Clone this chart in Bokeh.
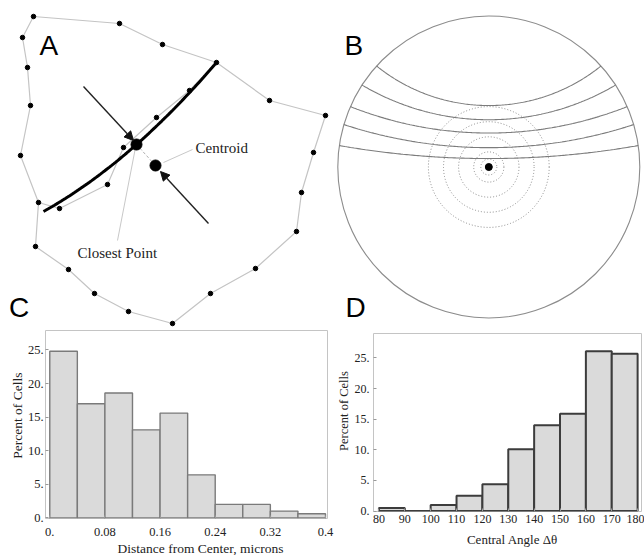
import numpy as np
from bokeh.plotting import figure
from bokeh.models import Range1d, FixedTicker, Arrow, NormalHead
from bokeh.layouts import column, row
from bokeh.embed import file_html
from bokeh.resources import INLINE
from bokeh.core.properties import value

# ---------------- Panel A : cell outline schematic (reference pixel space) -------------
outline_x = [33, 119, 162, 216, 269, 325, 313, 301, 296, 255, 210, 172, 128, 94, 68, 35, 38, 20, 30, 27, 22, 33]
outline_y = [16, 23, 44, 62, 100, 115, 152, 192, 231, 268, 293, 323, 311, 293, 269, 246, 202, 155, 105, 67, 37, 16]
chain_x = [38, 59, 107, 123, 156, 189, 216]
chain_y = [202, 208, 184, 147, 117, 90, 62]
membrane_x = [43, 136, 216]
membrane_y = [211, 144, 62]
closest_pt = [136, 144]
centroid_pt = [155, 165]
arrow_closest = [83, 86, 133, 140]
arrow_centroid = [208, 223, 160, 171]
leader_centroid = [192, 149, 163, 162]
leader_closest = [117, 240, 135, 147]

# ---------------- Panel B : unit disk -------------
arc_mid = [0.407, 0.313, 0.225, 0.128, 0.056]
arc_end = [0.669, 0.543, 0.400, 0.281, 0.142]
ring_r = [0.053, 0.1, 0.2, 0.3, 0.4]

# ---------------- Panel C histogram -------------
c_edges = [0.0, 0.04, 0.08, 0.12, 0.16, 0.20, 0.24, 0.28, 0.32, 0.36, 0.40]
c_vals = [24.8, 17.0, 18.6, 13.1, 15.6, 6.4, 2.0, 2.0, 1.0, 0.6]
c_xticks = [0.0, 0.08, 0.16, 0.24, 0.32, 0.4]
c_xlabels = ["0.", "0.08", "0.16", "0.24", "0.32", "0.4"]

# ---------------- Panel D histogram -------------
d_edges = [80, 90, 100, 110, 120, 130, 140, 150, 160, 170, 180]
d_vals = [0.5, 0.0, 1.0, 2.5, 4.4, 10.1, 14.0, 15.9, 26.1, 25.7]
d_xticks = [80, 90, 100, 110, 120, 130, 140, 150, 160, 170, 180]

y_ticks = [0, 5, 10, 15, 20, 25]
y_labels = ["0.", "5.", "10.", "15.", "20.", "25."]

SERIF = "Liberation Serif"
SANS = "Liberation Sans"
LETTER_SIZE = "28px"
TOP_H = 329
PAGE_H = 555


def blank(width, height, x_range=None, y_range=None):
    p = figure(width=width, height=height,
               x_range=x_range if x_range is not None else Range1d(0, width),
               y_range=y_range if y_range is not None else Range1d(height, 0),
               toolbar_location=None, output_backend="svg", min_border=0,
               x_axis_location=None, y_axis_location=None)
    p.grid.visible = False
    p.outline_line_color = None
    return p


# ======================= Panel A =======================
pA = blank(331, TOP_H)
gray = "#c4c4c4"
pA.line(outline_x, outline_y, line_color=gray, line_width=1.2)
pA.line(chain_x, chain_y, line_color=gray, line_width=1.2)
pA.scatter(outline_x[:-1], outline_y[:-1], size=4.5, color="black")
pA.scatter(chain_x[1:-1], chain_y[1:-1], size=4.5, color="black")

coef = np.polyfit(membrane_x, membrane_y, 2)
mx = np.linspace(membrane_x[0], membrane_x[-1], 80)
pA.line(mx, np.polyval(coef, mx), line_color="black", line_width=3)

pA.line([closest_pt[0], centroid_pt[0]], [closest_pt[1], centroid_pt[1]],
        line_color="#b0b0b0", line_width=1, line_dash="3 2")
pA.line(leader_centroid[0::2], leader_centroid[1::2], line_color="#c8c8c8", line_width=1)
pA.line(leader_closest[0::2], leader_closest[1::2], line_color="#c8c8c8", line_width=1)

for a in (arrow_closest, arrow_centroid):
    pA.add_layout(Arrow(end=NormalHead(size=9, fill_color="#111111", line_color="#111111"),
                        x_start=a[0], y_start=a[1], x_end=a[2], y_end=a[3],
                        line_color="#222222", line_width=1.4))

pA.scatter([closest_pt[0], centroid_pt[0]], [closest_pt[1], centroid_pt[1]], size=11, color="black")

pA.text(x=[195], y=[147.5], text=["Centroid"], text_font=value(SERIF), text_font_size="15px",
        text_baseline="middle", text_align="left", text_color="#222222")
pA.text(x=[77], y=[252.5], text=["Closest Point"], text_font=value(SERIF), text_font_size="15px",
        text_baseline="middle", text_align="left", text_color="#222222")
pA.text(x=[39, 8.5], y=[44.5, 306.5], text=["A", "C"], text_font=value(SANS), text_font_size=LETTER_SIZE,
        text_baseline="middle", text_align="left", text_color="black")

# ======================= Panel B =======================
CX, CY, RPX = 488.3, 166.5, 151.0


def px2b(X, Y):
    return (X - CX) / RPX, (CY - Y) / RPX


bx0, by0 = px2b(331, TOP_H)
bx1, by1 = px2b(644, 0)
pB = blank(313, TOP_H, Range1d(bx0, bx1), Range1d(by0, by1))

pB.circle(x=[0], y=[0], radius=1.0, fill_color=None, line_color="#8c8c8c", line_width=1.1)
pB.circle(x=[0] * len(ring_r), y=[0] * len(ring_r), radius=ring_r, fill_color=None,
          line_color="#8a8a8a", line_width=1, line_dash="1 2")

xs, ys = [], []
for h, e in zip(arc_mid, arc_end):
    xe = np.sqrt(1 - e ** 2)
    d = e - h
    rc = (xe ** 2 + d ** 2) / (2 * d)
    te = np.arccos((rc - d) / rc)
    t = np.linspace(-te, te, 160)
    xs.append(rc * np.sin(t))
    ys.append(h + rc - rc * np.cos(t))
pB.multi_line(xs, ys, line_color="#7c7c7c", line_width=1.1)
pB.scatter([0], [0], size=7, color="black")

lb = px2b(344, 44.5)
ld = px2b(345, 306.5)
pB.text(x=[lb[0], ld[0]], y=[lb[1], ld[1]], text=["B", "D"], text_font=value(SANS),
        text_font_size=LETTER_SIZE, text_baseline="middle", text_align="left", text_color="black")


# ======================= Histograms =======================
def style_hist(p, tick_size):
    p.grid.visible = False
    p.outline_line_color = "#c4c4c4"
    p.background_fill_color = "white"
    for ax in (p.xaxis[0], p.yaxis[0]):
        ax.axis_line_color = None
        ax.major_tick_in = 3
        ax.major_tick_out = 0
        ax.minor_tick_line_color = None
        ax.major_tick_line_color = "#999999"
        ax.major_label_text_font = SERIF
        ax.major_label_text_font_size = tick_size
        ax.major_label_text_color = "#222222"
    p.yaxis[0].ticker = FixedTicker(ticks=y_ticks)
    p.yaxis[0].major_label_overrides = {t: l for t, l in zip(y_ticks, y_labels)}


def text_panel(width, height, text, x, y, size, vertical=False):
    # upright (non-inverted) coordinates: y measured from the panel's bottom
    p = blank(width, height, Range1d(0, width), Range1d(0, height))
    p.text(x=[x], y=[height - y], text=[text], text_font=value(SERIF), text_font_size=size,
           angle=np.pi / 2 if vertical else 0.0,
           text_align="center", text_baseline="middle", text_color="#222222")
    return p


# --- C : page x 0..336, y 329..555 ; frame x 42..327, y 330..518
C_SPLIT = 541
C_YL_W = 24
pC = figure(width=336 - C_YL_W, height=C_SPLIT - TOP_H,
            x_range=Range1d(-0.0062, 0.4029), y_range=Range1d(-0.1, 27.9),
            toolbar_location=None, output_backend="svg",
            min_border_left=42 - C_YL_W, min_border_right=9, min_border_top=1,
            min_border_bottom=C_SPLIT - 518)
pC.quad(left=c_edges[:-1], right=c_edges[1:], bottom=0, top=c_vals,
        fill_color="#dadada", line_color="#7a7a7a", line_width=1.4)
style_hist(pC, "12.5px")
pC.xaxis[0].ticker = FixedTicker(ticks=c_xticks)
pC.xaxis[0].major_label_overrides = {t: l for t, l in zip(c_xticks, c_xlabels)}
pC.xaxis[0].major_label_standoff = 9
pC.yaxis[0].major_label_standoff = 2

ylC = text_panel(C_YL_W, C_SPLIT - TOP_H, "Percent of Cells", 16.7, 425 - TOP_H, "13.5px", vertical=True)
xlC = text_panel(336, PAGE_H - C_SPLIT, "Distance from Center, microns", 200, 548 - C_SPLIT, "13.5px")

# --- D : page x 336..644, y 329..555 ; frame x 372..641, y 333..511
D_SPLIT = 530
D_X = 336
D_YL_W = 15
pD = figure(width=644 - D_X - D_YL_W, height=D_SPLIT - TOP_H,
            x_range=Range1d(77.9, 181.5), y_range=Range1d(-0.07, 29.0),
            toolbar_location=None, output_backend="svg",
            min_border_left=372 - D_X - D_YL_W, min_border_right=3, min_border_top=4,
            min_border_bottom=D_SPLIT - 511)
pD.quad(left=d_edges[:-1], right=d_edges[1:], bottom=0, top=d_vals,
        fill_color="#dadada", line_color="#3c3c3c", line_width=2)
style_hist(pD, "12px")
pD.xaxis[0].ticker = FixedTicker(ticks=d_xticks)
pD.xaxis[0].major_label_standoff = 3
pD.yaxis[0].major_label_standoff = 4

ylD = text_panel(D_YL_W, D_SPLIT - TOP_H, "Percent of Cells", 343 - D_X, 416.5 - TOP_H, "12.5px", vertical=True)
xlD = text_panel(644 - D_X, PAGE_H - D_SPLIT, "Central Angle Δθ", 512 - D_X, 539 - D_SPLIT, "13px")

bottom = row(column(row(ylC, pC), xlC), column(row(ylD, pD), xlD))
layout = column(row(pA, pB), bottom)
open("out.html", "w").write(file_html(layout, INLINE))
